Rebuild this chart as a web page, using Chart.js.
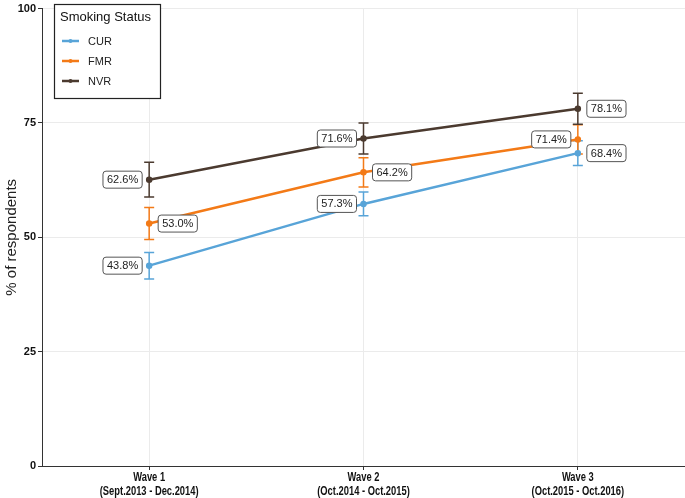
<!DOCTYPE html>
<html>
<head>
<meta charset="utf-8">
<script src="https://cdn.jsdelivr.net/npm/chart.js@4.4.1/dist/chart.umd.min.js"></script>
<style>
  html, body { margin: 0; padding: 0; background: #fff; }
  #wrap { width: 685px; height: 498px; position: relative; }
</style>
</head>
<body>
<div id="wrap"><canvas id="chart"></canvas></div>
<script>
// Smoking status by wave
const waveLabels = [
    ['Wave 1', '(Sept.2013 - Dec.2014)'],
    ['Wave 2', '(Oct.2014 - Oct.2015)'],
    ['Wave 3', '(Oct.2015 - Oct.2016)']
];
const seriesNames = ['CUR', 'FMR', 'NVR'];
const curValues = [43.8, 57.3, 68.4];
const fmrValues = [53.0, 64.2, 71.4];
const nvrValues = [62.6, 71.6, 78.1];
// half-width of the error bars (percentage points)
const curErr = [2.9, 2.6, 2.7];
const fmrErr = [3.5, 3.2, 3.2];
const nvrErr = [3.8, 3.4, 3.4];
const yTicks = [0, 25, 50, 75, 100];

const COLORS = { CUR: '#58a4d8', FMR: '#f37a17', NVR: '#4b3a2f' };
const FONT = '"Liberation Sans", Arial, sans-serif';

function makeSet(name, values, errs, sides) {
    return {
        label: name,
        data: values,
        errs,
        sides,
        borderColor: COLORS[name],
        backgroundColor: COLORS[name],
        borderWidth: 2.5,
        pointRadius: 2,
        pointHoverRadius: 2,
        tension: 0,
        fill: false
    };
}

const errorBarPlugin = {
    id: 'errorBars',
    beforeDatasetsDraw(chart) {
        const ctx = chart.ctx;
        const y = chart.scales.y;
        chart.data.datasets.forEach((ds, i) => {
            const meta = chart.getDatasetMeta(i);
            ctx.save();
            ctx.strokeStyle = ds.borderColor;
            ctx.lineWidth = 1.5;
            meta.data.forEach((pt, j) => {
                const top = y.getPixelForValue(ds.data[j] + ds.errs[j]);
                const bot = y.getPixelForValue(ds.data[j] - ds.errs[j]);
                ctx.beginPath();
                ctx.moveTo(pt.x, top); ctx.lineTo(pt.x, bot);
                ctx.moveTo(pt.x - 5, top); ctx.lineTo(pt.x + 5, top);
                ctx.moveTo(pt.x - 5, bot); ctx.lineTo(pt.x + 5, bot);
                ctx.stroke();
            });
            ctx.restore();
        });
    }
};

function roundRect(ctx, x, y, w, h, r) {
    ctx.beginPath();
    ctx.moveTo(x + r, y);
    ctx.lineTo(x + w - r, y);
    ctx.quadraticCurveTo(x + w, y, x + w, y + r);
    ctx.lineTo(x + w, y + h - r);
    ctx.quadraticCurveTo(x + w, y + h, x + w - r, y + h);
    ctx.lineTo(x + r, y + h);
    ctx.quadraticCurveTo(x, y + h, x, y + h - r);
    ctx.lineTo(x, y + r);
    ctx.quadraticCurveTo(x, y, x + r, y);
    ctx.closePath();
}

const valueLabelPlugin = {
    id: 'valueLabels',
    afterDatasetsDraw(chart) {
        const ctx = chart.ctx;
        ctx.save();
        ctx.font = '11px ' + FONT;
        ctx.textBaseline = 'middle';
        chart.data.datasets.forEach((ds, i) => {
            const meta = chart.getDatasetMeta(i);
            meta.data.forEach((pt, j) => {
                const txt = ds.data[j].toFixed(1) + '%';
                const w = ctx.measureText(txt).width + 8;
                const h = 17;
                const x = ds.sides[j] === 'left' ? pt.x - 7 - w : pt.x + 9;
                const yy = pt.y - h / 2;
                roundRect(ctx, x, yy, w, h, 3);
                ctx.fillStyle = '#fff';
                ctx.fill();
                ctx.strokeStyle = '#555';
                ctx.lineWidth = 1;
                ctx.stroke();
                ctx.fillStyle = '#222';
                ctx.textAlign = 'center';
                ctx.fillText(txt, x + w / 2, pt.y + 0.5);
            });
        });
        ctx.restore();
    }
};

// condensed bold category labels under the x axis
const xLabelPlugin = {
    id: 'xLabels',
    afterDraw(chart) {
        const ctx = chart.ctx;
        const xs = chart.scales.x;
        ctx.save();
        ctx.font = 'bold 13px ' + FONT;
        ctx.fillStyle = '#111';
        ctx.textAlign = 'center';
        ctx.textBaseline = 'middle';
        waveLabels.forEach((lines, i) => {
            const px = xs.getPixelForTick(i);
            lines.forEach((line, k) => {
                ctx.save();
                ctx.translate(px, xs.top + 11 + k * 14);
                ctx.scale(0.72, 1);
                ctx.fillText(line, 0, 0);
                ctx.restore();
            });
        });
        ctx.restore();
    }
};

const legendPlugin = {
    id: 'boxLegend',
    afterDraw(chart) {
        const ctx = chart.ctx;
        ctx.save();
        ctx.fillStyle = '#fff';
        ctx.fillRect(54, 4, 107, 94);
        ctx.strokeStyle = '#222';
        ctx.lineWidth = 1.2;
        ctx.strokeRect(54.5, 4.5, 106, 94);
        ctx.fillStyle = '#111';
        ctx.textBaseline = 'middle';
        ctx.textAlign = 'left';
        ctx.font = '13px ' + FONT;
        ctx.fillText('Smoking Status', 60, 17);
        ctx.font = '11px ' + FONT;
        seriesNames.forEach((name, k) => {
            const ly = 41 + k * 20;
            ctx.strokeStyle = COLORS[name];
            ctx.lineWidth = 2.5;
            ctx.beginPath();
            ctx.moveTo(62, ly); ctx.lineTo(79, ly);
            ctx.stroke();
            ctx.fillStyle = COLORS[name];
            ctx.beginPath();
            ctx.arc(70.5, ly, 2, 0, Math.PI * 2);
            ctx.fill();
            ctx.fillStyle = '#222';
            ctx.fillText(name, 88, ly + 0.5);
        });
        ctx.restore();
    }
};

new Chart(document.getElementById('chart'), {
    type: 'line',
    data: {
        labels: waveLabels,
        datasets: [
            makeSet('CUR', curValues, curErr, ['left', 'left', 'right']),
            makeSet('FMR', fmrValues, fmrErr, ['right', 'right', 'left']),
            makeSet('NVR', nvrValues, nvrErr, ['left', 'left', 'right'])
        ]
    },
    options: {
        responsive: true,
        maintainAspectRatio: false,
        animation: false,
        layout: { autoPadding: false, padding: { top: 0, right: 0, left: 3, bottom: 0 } },
        plugins: {
            legend: { display: false },
            tooltip: { enabled: false }
        },
        scales: {
            x: {
                offset: true,
                grid: { color: '#ebebeb', tickColor: '#333', tickLength: 4, offset: false },
                border: { color: '#333', width: 1 },
                ticks: { display: false },
                afterFit: (s) => { s.height = 32; }
            },
            y: {
                min: 0,
                max: 100,
                afterBuildTicks: (s) => { s.ticks = yTicks.map(v => ({ value: v })); },
                grid: { color: '#ebebeb', tickColor: '#333', tickLength: 4 },
                border: { color: '#333', width: 1 },
                ticks: {
                    color: '#111',
                    font: { family: FONT, size: 11, weight: 'bold' },
                    padding: 2
                },
                title: {
                    display: true,
                    text: '% of respondents',
                    color: '#222',
                    font: { family: FONT, size: 15 },
                    padding: 0
                },
                afterFit: (s) => { s.width = 39; }
            }
        }
    },
    plugins: [errorBarPlugin, valueLabelPlugin, xLabelPlugin, legendPlugin]
});
</script>
</body>
</html>
